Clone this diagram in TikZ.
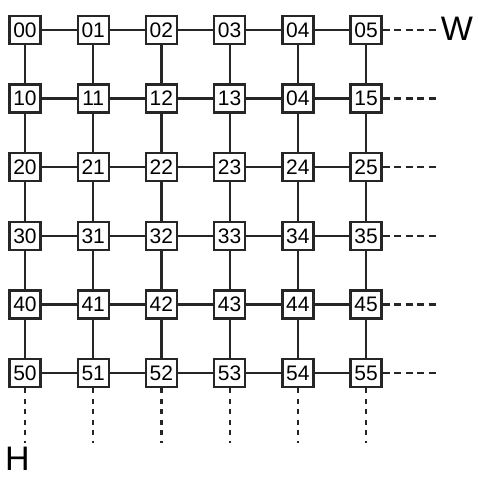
\documentclass[tikz,border=0pt]{standalone}
\usepackage{fontspec}
\setmainfont{Liberation Sans}
\usetikzlibrary{positioning}

\tikzset{
  cell/.style={draw=black!85, line width=2.4pt, fill=white, minimum width=31pt, minimum height=28pt, inner sep=0pt, font=\fontsize{21}{21}\selectfont},
  link/.style={draw=black!85, line width=2.2pt},
  hdash/.style={draw=black!85, line width=2.2pt, dash pattern=on 7pt off 4.5pt},
  vdash/.style={draw=black!85, line width=2.2pt, dash pattern=on 5pt off 5.5pt},
  axis/.style={font=\fontsize{34}{34}\selectfont, inner sep=0pt}
}

\begin{document}
\begin{tikzpicture}[x=1pt, y=1pt]
  \useasboundingbox (0,0) rectangle (477,-478);

  % Grid cells
  \foreach \r in {0,...,5}
    \foreach \c in {0,...,5} {
      \ifnum\r\c=14 \def\lab{04}\else\def\lab{\r\c}\fi
      \node[cell] (n\r\c) at (25+68.2*\c, -30-68.6*\r) {\lab};
    }

  % Horizontal links
  \foreach \r in {0,...,5}
    \foreach \c/\nc in {0/1,1/2,2/3,3/4,4/5}
      \draw[link] (n\r\c) -- (n\r\nc);

  % Vertical links
  \foreach \r/\nr in {0/1,1/2,2/3,3/4,4/5}
    \foreach \c in {0,...,5}
      \draw[link] (n\r\c) -- (n\nr\c);

  % Open ends
  \foreach \r in {0,...,5} {
    \coordinate (e\r) at (436, -30-68.6*\r);
    \draw[hdash] (n\r5.east) -- (e\r);
  }
  \foreach \c in {0,...,5} {
    \coordinate (s\c) at (25+68.2*\c, -443);
    \draw[vdash] (n5\c.south) -- (s\c);
  }

  % Labels
  \node[axis] (W) at (457,-29) {W};
  \node[axis] (H) at (17.5,-459) {H};
\end{tikzpicture}
\end{document}
